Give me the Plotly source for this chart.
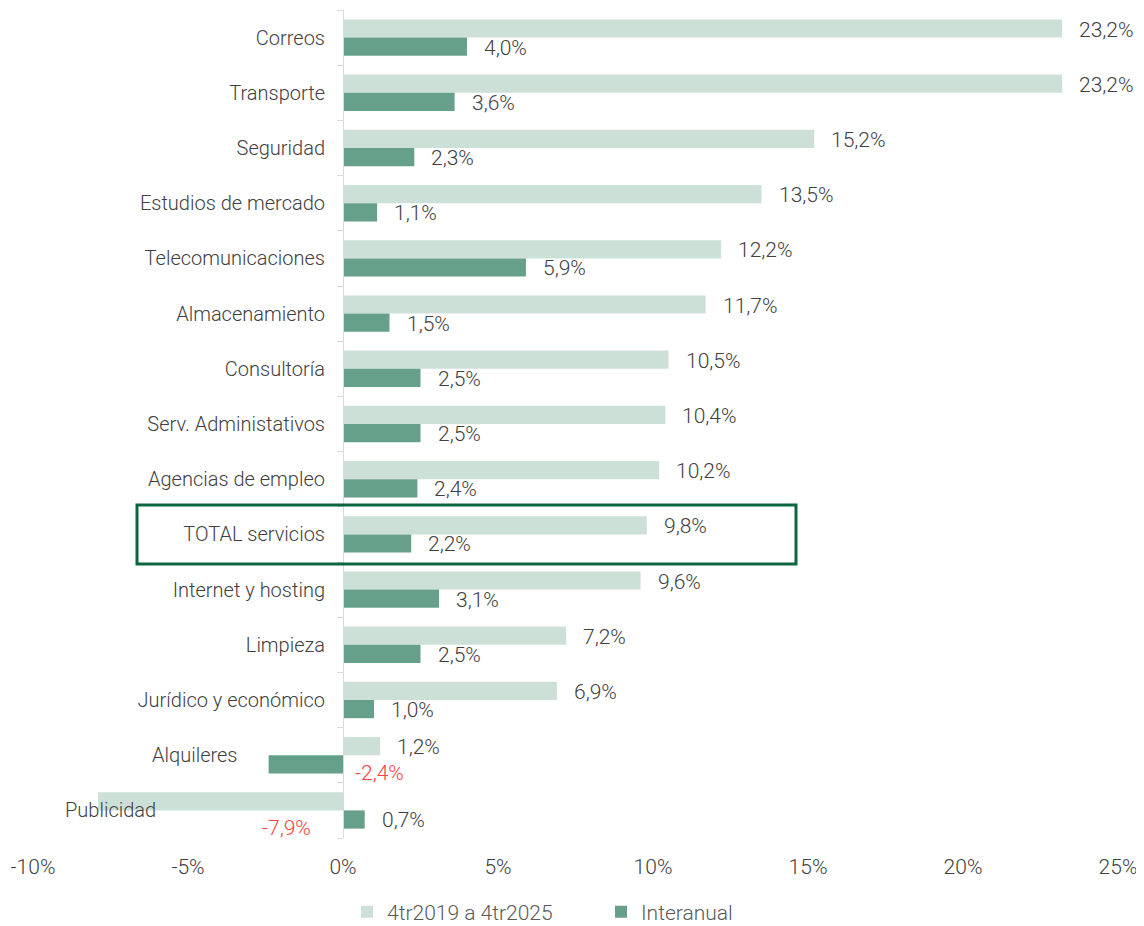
import plotly.graph_objects as go

categories = ["Correos", "Transporte", "Seguridad", "Estudios de mercado", "Telecomunicaciones",
              "Almacenamiento", "Consultoría", "Serv. Administativos", "Agencias de empleo",
              "TOTAL servicios", "Internet y hosting", "Limpieza", "Jurídico y económico",
              "Alquileres", "Publicidad"]
acum = [23.2, 23.2, 15.2, 13.5, 12.2, 11.7, 10.5, 10.4, 10.2, 9.8, 9.6, 7.2, 6.9, 1.2, -7.9]
interanual = [4.0, 3.6, 2.3, 1.1, 5.9, 1.5, 2.5, 2.5, 2.4, 2.2, 3.1, 2.5, 1.0, -2.4, 0.7]
x_ticks = [-10, -5, 0, 5, 10, 15, 20, 25]
series_names = ["4tr2019 a 4tr2025", "Interanual"]

LIGHT = "#cde0d8"
DARK = "#66a08a"
TXT = "#404040"
FONT = "Roboto"

OFF = 8  # page body margin
W, H = 1144 - OFF, 926 - OFF
# plot area in screen pixels
PX0, PX1, PY0, PY1 = 33, 1118, 10, 838
L = PX0 - OFF
R = W - (PX1 - OFF)
T = PY0 - OFF
B = H - (PY1 - OFF)
pw = W - L - R
ph = H - T - B


def px_to_paper_x(px):
    return (px - PX0) / pw


def px_to_paper_y(py):
    return (PY1 - py) / ph


def fmt(v):
    return f"{v:.1f}%".replace(".", ",")


fig = go.Figure()
fig.add_trace(go.Bar(y=categories, x=acum, orientation="h", name=series_names[0],
                     marker=dict(color=LIGHT, line=dict(width=0))))
fig.add_trace(go.Bar(y=categories, x=interanual, orientation="h", name=series_names[1],
                     marker=dict(color=DARK, line=dict(width=0))))

ann = []
for cat, a, b in zip(categories, acum, interanual):
    for v, ysh, is_light in ((a, 8, True), (b, -10, False)):
        if v >= 0:
            ann.append(dict(x=v, y=cat, text=fmt(v), xanchor="left", xshift=15, yshift=ysh,
                            showarrow=False, font=dict(family=FONT, size=21, color=TXT, weight=300)))
        elif is_light:
            ann.append(dict(x=0, y=cat, text=fmt(v), xanchor="right", xshift=-30, yshift=-18,
                            showarrow=False, font=dict(family=FONT, size=21, color="#ff4040", weight=300)))
        else:
            ann.append(dict(x=0, y=cat, text=fmt(v), xanchor="left", xshift=10, yshift=-18,
                            showarrow=False, font=dict(family=FONT, size=21, color="#ff4040", weight=300)))

# category labels that sit away from the axis (drawn above the bars)
shifted_labels = {"Alquileres": 240, "Publicidad": 158}
ticktext = []
for cat in categories:
    if cat in shifted_labels:
        ticktext.append("")
        ann.append(dict(xref="paper", x=px_to_paper_x(shifted_labels[cat]), y=cat, text=cat,
                        xanchor="right", showarrow=False,
                        font=dict(family=FONT, size=20, color=TXT, weight=300)))
    else:
        ticktext.append(cat)

fig.add_shape(type="rect", xref="paper", yref="paper",
              x0=px_to_paper_x(137), x1=px_to_paper_x(796),
              y0=px_to_paper_y(564), y1=px_to_paper_y(505),
              line=dict(color="#0b6640", width=3), fillcolor="rgba(0,0,0,0)", layer="above")

fig.update_layout(
    width=W, height=H,
    margin=dict(l=L, r=R, t=T, b=B, autoexpand=False),
    paper_bgcolor="white", plot_bgcolor="white",
    barmode="group", bargap=0.34, bargroupgap=0,
    font=dict(family=FONT, size=20, color=TXT, weight=300),
    annotations=ann,
    showlegend=True,
    legend=dict(orientation="h", x=px_to_paper_x(347), xanchor="left",
                y=px_to_paper_y(912), yanchor="middle",
                font=dict(family=FONT, size=21, color="#595959", weight=300),
                itemwidth=30, entrywidth=209, entrywidthmode="pixels", tracegroupgap=0),
    xaxis=dict(range=[-10, 25], tickvals=x_ticks, ticktext=[f"{t}%" for t in x_ticks],
               showgrid=False, zeroline=False, showline=False, ticks="", automargin=False,
               ticklabelstandoff=14,
               tickfont=dict(family=FONT, size=21, color=TXT, weight=300)),
    yaxis=dict(autorange="reversed", anchor="free", position=px_to_paper_x(343), automargin=False,
               tickmode="array", tickvals=categories, ticktext=ticktext,
               showgrid=False, zeroline=False, showline=True, linecolor="#d9d9d9", linewidth=1,
               ticks="outside", ticklen=6, tickcolor="#d9d9d9", tickson="boundaries",
               ticklabelstandoff=14,
               tickfont=dict(family=FONT, size=20, color=TXT, weight=300)),
)

fig.write_html("out.html")
